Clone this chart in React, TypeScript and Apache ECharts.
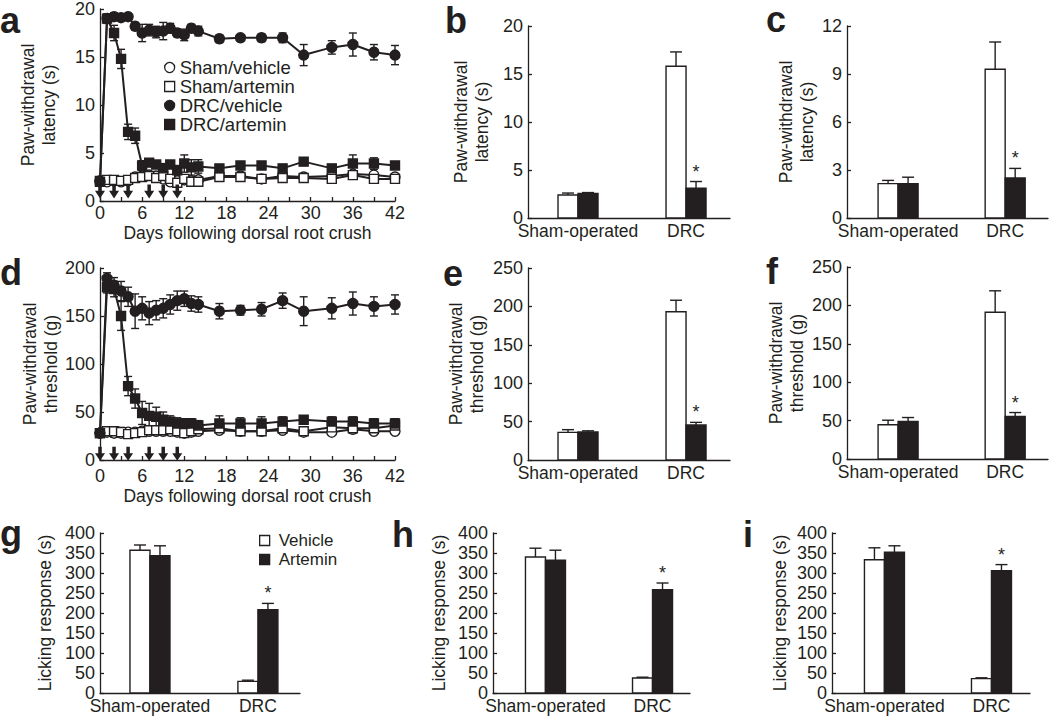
import React, { useEffect, useRef } from 'react';
import * as echarts from 'echarts';

const INK = '#231f20';
const FONT = "'Liberation Sans', Arial, Helvetica, sans-serif";

// ---------- panels a & d : time course ----------
const days = [0, 1, 2, 3, 4, 5, 6, 7, 8, 9, 10, 11, 12, 13, 14, 17, 20, 23, 26, 29, 33, 36, 39, 42];
const injectionDays = [0, 2, 4, 7, 9, 11];
const lineSeriesNames = ['Sham/vehicle', 'Sham/artemin', 'DRC/vehicle', 'DRC/artemin'];

// panel a: paw-withdrawal latency (s)
const latShamVehicle = [2.1, 2.0, 2.1, 2.0, 2.1, 2.5, 2.6, 2.7, 2.6, 2.3, 2.0, 2.1, 2.2, 2.1, 2.2, 2.6, 2.6, 2.3, 2.6, 2.5, 2.6, 2.8, 2.7, 2.5];
const latShamVehicleErr = [0.2, 0.2, 0.2, 0.2, 0.2, 0.3, 0.3, 0.3, 0.3, 0.3, 0.3, 0.3, 0.3, 0.3, 0.3, 0.2, 0.2, 0.2, 0.2, 0.2, 0.2, 0.3, 0.3, 0.2];
const latShamArtemin = [2.1, 2.2, 2.2, 2.1, 2.2, 2.4, 2.5, 2.6, 2.4, 2.6, 2.3, 1.9, 2.3, 2.0, 2.0, 2.5, 2.5, 2.3, 2.4, 2.4, 2.3, 2.7, 2.3, 2.3];
const latShamArteminErr = [0.2, 0.2, 0.2, 0.2, 0.2, 0.3, 0.3, 0.3, 0.3, 0.4, 0.3, 0.3, 0.3, 0.3, 0.3, 0.2, 0.2, 0.2, 0.2, 0.2, 0.2, 0.3, 0.4, 0.3];
const latDrcVehicle = [2.0, 19.0, 19.2, 19.1, 19.2, 18.2, 17.5, 17.8, 17.6, 17.7, 18.0, 17.5, 17.3, 18.0, 17.7, 16.9, 17.0, 17.0, 17.0, 15.2, 16.0, 16.3, 15.5, 15.2];
const latDrcVehicleErr = [0.2, 0.4, 0.4, 0.3, 0.3, 0.4, 0.9, 0.6, 0.6, 0.9, 0.5, 0.4, 0.6, 0.4, 0.5, 0.4, 0.3, 0.4, 0.5, 1.1, 0.7, 1.2, 0.8, 1.0];
const latDrcArtemin = [2.0, 19.0, 17.5, 14.8, 7.2, 6.8, 3.7, 4.0, 3.8, 3.4, 3.8, 3.2, 3.9, 3.5, 3.6, 3.4, 3.7, 3.7, 3.4, 4.1, 3.4, 3.9, 3.9, 3.7];
const latDrcArteminErr = [0.2, 0.5, 0.8, 1.0, 0.8, 0.8, 0.5, 0.4, 0.4, 0.5, 0.4, 0.5, 0.9, 0.8, 0.7, 0.3, 0.3, 0.4, 0.4, 0.4, 0.4, 0.9, 0.6, 0.4];

// panel d: paw-withdrawal threshold (g)
const thrShamVehicle = [28, 29, 28, 28, 29, 29, 30, 30, 30, 30, 30, 29, 28, 29, 30, 31, 30, 30, 31, 29, 29, 32, 30, 30];
const thrShamVehicleErr = [3, 3, 4, 4, 3, 3, 3, 3, 3, 3, 3, 3, 3, 3, 3, 3, 3, 3, 3, 3, 3, 4, 3, 3];
const thrShamArtemin = [28, 30, 30, 29, 27, 28, 29, 31, 31, 31, 32, 30, 28, 30, 32, 33, 30, 30, 33, 30, 34, 33, 33, 36];
const thrShamArteminErr = [3, 3, 4, 5, 4, 4, 3, 3, 3, 3, 3, 3, 3, 3, 4, 4, 3, 3, 4, 3, 4, 4, 4, 4];
const thrDrcVehicle = [28, 189, 182, 176, 170, 155, 158, 153, 156, 158, 162, 166, 168, 163, 162, 155, 156, 157, 166, 155, 158, 163, 160, 162];
const thrDrcVehicleErr = [3, 6, 8, 10, 10, 18, 12, 12, 10, 10, 10, 10, 8, 8, 8, 8, 5, 7, 8, 15, 11, 12, 10, 10];
const thrDrcArtemin = [28, 180, 178, 150, 77, 64, 49, 46, 45, 42, 40, 38, 38, 38, 36, 38, 38, 38, 40, 42, 40, 40, 38, 38];
const thrDrcArteminErr = [3, 6, 8, 15, 10, 10, 12, 13, 10, 8, 6, 6, 5, 5, 5, 8, 6, 7, 5, 4, 5, 5, 5, 5];

// ---------- bar panels ----------
const barGroups = ['Sham-operated', 'DRC'];
const artSig = [false, true];

const bVehicle = [2.4, 15.8];
const bVehicleErr = [0.2, 1.5];
const bArtemin = [2.55, 3.1];
const bArteminErr = [0.1, 0.7];

const cVehicle = [2.15, 9.3];
const cVehicleErr = [0.2, 1.7];
const cArtemin = [2.15, 2.5];
const cArteminErr = [0.4, 0.6];

const eVehicle = [36, 193];
const eVehicleErr = [3.5, 15];
const eArtemin = [36.5, 45.5];
const eArteminErr = [1.5, 3.5];

const fVehicle = [44.5, 191];
const fVehicleErr = [6, 28];
const fArtemin = [49, 55.5];
const fArteminErr = [5, 5];

const gVehicle = [357, 29];
const gVehicleErr = [13, 3];
const gArtemin = [343, 208];
const gArteminErr = [25, 16];

const hVehicle = [340, 37.5];
const hVehicleErr = [22, 2];
const hArtemin = [332, 258];
const hArteminErr = [25, 17];

const iVehicle = [333, 36];
const iVehicleErr = [30, 2];
const iArtemin = [352, 306];
const iArteminErr = [16, 15];

// ---------- styling / layout ----------
const LINE_STYLE = { color: INK, width: 1.3 };
const BAR_W = 20;
const CAP = 6;
const ARROW = 'path://M2.6,0 L5.4,0 L5.4,6 L8,6 L4,13 L0,6 L2.6,6 Z';

function buildOption() {
  const grids = [
    { left: 100, top: 9, width: 295, height: 192 }, // a
    { left: 100, top: 268, width: 295, height: 192 }, // d
    { left: 528, top: 26, width: 202, height: 192 }, // b
    { left: 847, top: 26, width: 201, height: 192 }, // c
    { left: 528, top: 268, width: 202, height: 192 }, // e
    { left: 847, top: 267, width: 201, height: 192 }, // f
    { left: 100, top: 533, width: 200, height: 160 }, // g
    { left: 493, top: 533, width: 197, height: 160 }, // h
    { left: 832, top: 533, width: 198, height: 160 }, // i
  ].map((g) => ({ ...g, containLabel: false, outerBoundsMode: 'none' }));

  const nameStyle = { color: INK, fontSize: 17.5, fontFamily: FONT, lineHeight: 21 };

  const yAx = (idx: number, max: number, interval: number, name: string, nameGap: number) => ({
    type: 'value',
    gridIndex: idx,
    min: 0,
    max,
    interval,
    name,
    nameLocation: 'middle',
    nameGap,
    nameTextStyle: nameStyle,
    axisLine: { show: true, onZero: false, lineStyle: LINE_STYLE },
    axisTick: { show: true, inside: true, length: 4, lineStyle: LINE_STYLE },
    axisLabel: { color: INK, fontSize: 18, lineHeight: 16, fontFamily: FONT, margin: 5 },
    splitLine: { show: false },
  });

  const xDays = (idx: number, margin: number, nameGap: number) => ({
    type: 'value',
    gridIndex: idx,
    min: 0,
    max: 42,
    interval: 3,
    name: 'Days following dorsal root crush',
    nameLocation: 'middle',
    nameGap,
    nameTextStyle: nameStyle,
    axisLine: { show: true, onZero: false, lineStyle: LINE_STYLE },
    axisTick: { show: true, inside: true, length: 4, lineStyle: LINE_STYLE },
    axisLabel: {
      color: INK,
      fontSize: 18,
      fontFamily: FONT,
      margin,
      interval: 0,
      formatter: (v: number) => (v % 6 === 0 ? String(v) : ''),
    },
    splitLine: { show: false },
  });

  const xBars = (idx: number, min: number, max: number) => ({
    type: 'value',
    gridIndex: idx,
    min,
    max,
    axisLine: { show: true, onZero: false, lineStyle: LINE_STYLE },
    axisTick: { show: false },
    splitLine: { show: false },
    axisLabel: {
      customValues: [0, 1],
      color: INK,
      fontSize: 17.5,
      fontFamily: FONT,
      margin: 4,
      formatter: (v: number) => (v === 0 || v === 1 ? barGroups[v] : ''),
    },
  });

  const xAxis = [
    xDays(0, 3, 16),
    xDays(1, 7, 18),
    xBars(2, -0.463, 1.407),
    xBars(3, -0.477, 1.4),
    xBars(4, -0.463, 1.407),
    xBars(5, -0.477, 1.4),
    xBars(6, -0.463, 1.39),
    xBars(7, -0.49, 1.35),
    xBars(8, -0.49, 1.36),
  ];

  const yAxis = [
    yAx(0, 20, 5, 'Paw-withdrawal\nlatency (s)', 41),
    yAx(1, 200, 50, 'Paw-withdrawal\nthreshold (g)', 38),
    yAx(2, 20, 5, 'Paw-withdrawal\nlatency (s)', 36),
    yAx(3, 12, 3, 'Paw-withdrawal\nlatency (s)', 30),
    yAx(4, 250, 50, 'Paw-withdrawal\nthreshold (g)', 41),
    yAx(5, 250, 50, 'Paw-withdrawal\nthreshold (g)', 40),
    yAx(6, 400, 50, 'Licking response (s)', 45),
    yAx(7, 400, 50, 'Licking response (s)', 44),
    yAx(8, 400, 50, 'Licking response (s)', 42),
  ];

  const errRender = (_p: any, api: any) => {
    const x = api.value(0);
    const v = api.value(1);
    const e = api.value(2);
    const lo = api.coord([x, v - e]);
    const hi = api.coord([x, v + e]);
    const st = { stroke: INK, lineWidth: 1.4 };
    return {
      type: 'group',
      children: [
        { type: 'line', shape: { x1: lo[0], y1: lo[1], x2: hi[0], y2: hi[1] }, style: st },
        { type: 'line', shape: { x1: hi[0] - 4, y1: hi[1], x2: hi[0] + 4, y2: hi[1] }, style: st },
        { type: 'line', shape: { x1: lo[0] - 4, y1: lo[1], x2: lo[0] + 4, y2: lo[1] }, style: st },
      ],
    };
  };

  const symbols = ['circle', 'rect', 'circle', 'rect'];
  const filledFlags = [false, false, true, true];

  const lineSeries = (idx: number, sets: number[][], errs: number[][]) => {
    const out: any[] = [];
    sets.forEach((vals, k) => {
      out.push({
        type: 'custom',
        xAxisIndex: idx,
        yAxisIndex: idx,
        silent: true,
        z: 2,
        data: days.map((d, i) => [d, vals[i], errs[k][i]]),
        renderItem: errRender,
      });
    });
    sets.forEach((vals, k) => {
      out.push({
        type: 'line',
        name: lineSeriesNames[k],
        xAxisIndex: idx,
        yAxisIndex: idx,
        z: 3 + k,
        data: days.map((d, i) => [d, vals[i]]),
        symbol: symbols[k],
        symbolSize: symbols[k] === 'circle' ? 10 : 9,
        showAllSymbol: true,
        lineStyle: { color: INK, width: 2 },
        itemStyle: { color: filledFlags[k] ? INK : '#fff', borderColor: INK, borderWidth: 1.4 },
      });
    });
    return out;
  };

  const arrowSeries = (idx: number, level: number) => ({
    type: 'scatter',
    xAxisIndex: idx,
    yAxisIndex: idx,
    z: 8,
    silent: true,
    data: injectionDays.map((d) => [d, level]),
    symbol: ARROW,
    symbolSize: [10, 14],
    itemStyle: { color: INK, opacity: 1 },
  });

  const barSeries = (idx: number, name: string, values: number[], errs: number[], filled: boolean, sig?: boolean[]) => ({
    type: 'custom',
    name,
    xAxisIndex: idx,
    yAxisIndex: idx,
    z: 3,
    itemStyle: { color: filled ? INK : '#fff', borderColor: INK },
    data: values.map((v, i) => [i, v, errs[i], sig && sig[i] ? 1 : 0]),
    renderItem: (_p: any, api: any) => {
      const g = api.value(0);
      const v = api.value(1);
      const e = api.value(2);
      const s = api.value(3);
      const base = api.coord([g, 0]);
      const top = api.coord([g, v]);
      const hi = api.coord([g, v + e]);
      const x0 = filled ? base[0] : base[0] - BAR_W;
      const cx = x0 + BAR_W / 2;
      const st = { stroke: INK, lineWidth: 1.4 };
      const children: any[] = [
        { type: 'line', shape: { x1: cx, y1: top[1], x2: cx, y2: hi[1] }, style: st },
        { type: 'line', shape: { x1: cx - CAP, y1: hi[1], x2: cx + CAP, y2: hi[1] }, style: st },
        {
          type: 'rect',
          shape: { x: x0, y: top[1], width: BAR_W, height: base[1] - top[1] },
          style: { fill: filled ? INK : '#fff', stroke: INK, lineWidth: 1.4 },
        },
      ];
      if (s) {
        children.push({
          type: 'text',
          style: {
            text: '*',
            x: cx,
            y: hi[1] - 1,
            align: 'center',
            verticalAlign: 'bottom',
            font: `18px ${FONT}`,
            fill: INK,
          },
        });
      }
      return { type: 'group', children };
    },
  });

  const series: any[] = [
    ...lineSeries(0, [latShamVehicle, latShamArtemin, latDrcVehicle, latDrcArtemin], [latShamVehicleErr, latShamArteminErr, latDrcVehicleErr, latDrcArteminErr]),
    arrowSeries(0, 1.0),
    ...lineSeries(1, [thrShamVehicle, thrShamArtemin, thrDrcVehicle, thrDrcArtemin], [thrShamVehicleErr, thrShamArteminErr, thrDrcVehicleErr, thrDrcArteminErr]),
    arrowSeries(1, 6.5),
    barSeries(2, 'Vehicle', bVehicle, bVehicleErr, false),
    barSeries(2, 'Artemin', bArtemin, bArteminErr, true, artSig),
    barSeries(3, 'Vehicle', cVehicle, cVehicleErr, false),
    barSeries(3, 'Artemin', cArtemin, cArteminErr, true, artSig),
    barSeries(4, 'Vehicle', eVehicle, eVehicleErr, false),
    barSeries(4, 'Artemin', eArtemin, eArteminErr, true, artSig),
    barSeries(5, 'Vehicle', fVehicle, fVehicleErr, false),
    barSeries(5, 'Artemin', fArtemin, fArteminErr, true, artSig),
    barSeries(6, 'Vehicle', gVehicle, gVehicleErr, false),
    barSeries(6, 'Artemin', gArtemin, gArteminErr, true, artSig),
    barSeries(7, 'Vehicle', hVehicle, hVehicleErr, false),
    barSeries(7, 'Artemin', hArtemin, hArteminErr, true, artSig),
    barSeries(8, 'Vehicle', iVehicle, iVehicleErr, false),
    barSeries(8, 'Artemin', iArtemin, iArteminErr, true, artSig),
  ];

  const legend = [
    {
      orient: 'vertical',
      left: 164,
      top: 58,
      padding: 0,
      itemWidth: 10,
      itemHeight: 10,
      itemGap: 0,
      selectedMode: false,
      textStyle: { color: INK, fontSize: 18.5, fontFamily: FONT },
      data: lineSeriesNames.map((n, k) => ({
        name: n,
        icon: symbols[k],
        itemStyle: { color: filledFlags[k] ? INK : '#fff', borderColor: INK, borderWidth: 1.3 },
      })),
    },
    {
      orient: 'vertical',
      left: 259,
      top: 532,
      padding: 0,
      itemWidth: 10,
      itemHeight: 10,
      itemGap: 2,
      selectedMode: false,
      textStyle: { color: INK, fontSize: 17, fontFamily: FONT, padding: [0, 0, 0, 4] },
      data: [
        { name: 'Vehicle', icon: 'rect', itemStyle: { color: '#fff', borderColor: INK, borderWidth: 1.3 } },
        { name: 'Artemin', icon: 'rect', itemStyle: { color: INK, borderColor: INK, borderWidth: 1.3 } },
      ],
    },
  ];

  const letter = (t: string, x: number, y: number) => ({
    type: 'text',
    x,
    y,
    style: {
      text: t,
      font: `bold 36px ${FONT}`,
      lineHeight: 20,
      fill: INK,
      verticalAlign: 'middle',
      align: 'left',
    },
  });

  const graphic = [
    letter('a', 0, 20),
    letter('b', 445, 20),
    letter('c', 766, 19),
    letter('d', 0, 272.5),
    letter('e', 443, 273.5),
    letter('f', 766, 271.5),
    letter('g', 0, 533.5),
    letter('h', 392, 534.5),
    letter('i', 743, 534.5),
  ];

  return {
    animation: false,
    backgroundColor: '#fff',
    grid: grids,
    xAxis,
    yAxis,
    legend,
    graphic,
    series,
  };
}

export default function App() {
  const ref = useRef<HTMLDivElement>(null);
  useEffect(() => {
    const chart = echarts.init(ref.current as HTMLDivElement, null, { renderer: 'svg' });
    chart.setOption(buildOption() as any);
    return () => chart.dispose();
  }, []);
  return (
    <div
      ref={ref}
      style={{ position: 'absolute', left: 0, top: 0, width: 1050, height: 716, background: '#fff' }}
    />
  );
}
